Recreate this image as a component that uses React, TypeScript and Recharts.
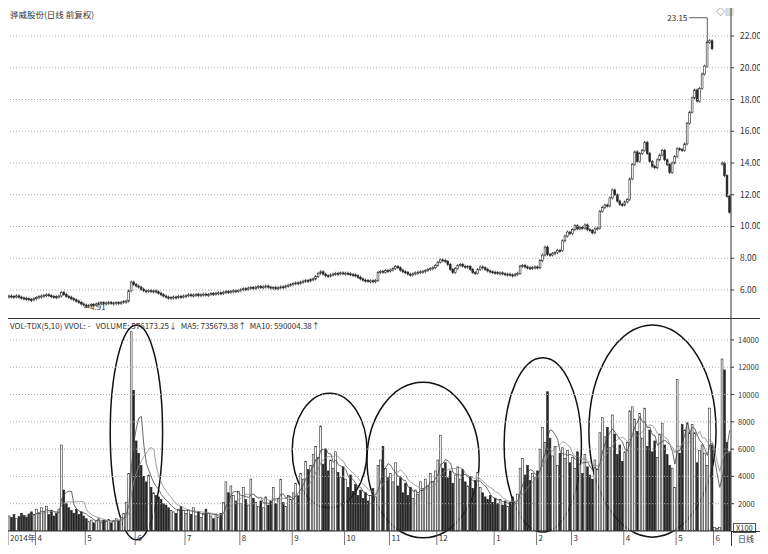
import React from 'react';
import { ComposedChart, Bar, Line, XAxis, YAxis, ReferenceLine, ReferenceArea, ReferenceDot } from 'recharts';

// trading days per month, first label carries the year
const monthLabels = ['2014年', '4', '5', '6', '7', '8', '9', '10', '11', '12', '1', '2', '3', '4', '5', '6'];
const monthDays = [11, 20, 20, 20, 22, 21, 21, 18, 19, 23, 17, 14, 21, 21, 15, 7];

// daily closes (null = suspended)
const closeMar14 = [5.62, 5.6, 5.58, 5.63, 5.55, 5.5, 5.48, 5.45, 5.4, 5.38, 5.45];
const closeApr14 = [5.52, 5.58, 5.62, 5.66, 5.7, 5.64, 5.6, 5.58, 5.55, 5.62, 5.85, 5.72, 5.6, 5.55, 5.45, 5.38, 5.3, 5.22, 5.12, 5.05];
const closeMay14 = [4.98, 5.02, 5.08, 5.05, 5.12, 5.18, 5.2, 5.15, 5.18, 5.22, 5.16, 5.18, 5.2, 5.15, 5.22, 5.28, 5.3, 5.95, 6.5, 6.35];
const closeJun14 = [6.25, 6.18, 6.05, 5.95, 5.92, 5.98, 5.9, 5.94, 5.88, 5.8, 5.7, 5.62, 5.55, 5.5, 5.52, 5.56, 5.55, 5.6, 5.58, 5.62];
const closeJul14 = [5.64, 5.7, 5.66, 5.68, 5.72, 5.65, 5.7, 5.74, 5.68, 5.72, 5.78, 5.75, 5.8, 5.82, 5.78, 5.85, 5.9, 5.88, 5.92, 5.95, 5.9, 5.98];
const closeAug14 = [6.02, 6.08, 6.05, 6.12, 6.15, 6.1, 6.18, 6.22, 6.15, 6.2, 6.25, 6.18, 6.12, 6.15, 6.1, 6.14, 6.2, 6.18, 6.25, 6.3, 6.35];
const closeSep14 = [6.4, 6.45, 6.42, 6.5, 6.55, 6.6, 6.58, 6.65, 6.7, 6.85, 7.05, 7.15, 7.0, 6.9, 6.88, 6.95, 7.0, 7.05, 7.02, 7.08, 7.05];
const closeOct14 = [7.06, 7.02, 6.98, 6.95, 6.9, 6.8, 6.7, 6.62, 6.6, 6.55, 6.58, 6.52, 6.6, 7.1, 7.18, 7.12, 7.22, 7.2];
const closeNov14 = [7.26, 7.35, 7.48, 7.4, 7.25, 7.15, 7.1, 7.0, 6.95, 7.02, 7.08, 7.12, 7.15, 7.18, 7.22, 7.3, 7.35, 7.4, 7.55];
const closeDec14 = [7.75, 7.9, 7.85, 7.8, 7.6, 7.3, 7.1, 7.35, 7.55, 7.6, 7.5, 7.45, 7.48, 7.3, 7.1, 7.05, 7.3, 7.45, 7.4, 7.3, 7.2, 7.15, 7.12];
const closeJan15 = [7.1, 7.05, 7.08, 7.02, 6.98, 7.0, 6.95, 6.92, 6.98, 7.05, 7.5, 7.55, 7.45, 7.4, 7.38, 7.42, 7.45];
const closeFeb15 = [7.4, 7.85, 8.2, 8.7, 8.25, 8.2, 8.3, 8.35, 8.5, 8.48, 9.1, 9.4, 9.65, 9.55];
const closeMar15 = [9.8, 10.05, 9.85, 9.95, 9.9, 10.1, 9.8, 9.75, 9.6, 9.85, 9.9, 10.95, 11.2, 11.35, 11.3, 11.8, 12.3, 12.0, 11.6, 11.4, 11.35];
const closeApr15 = [11.55, 11.7, 13.0, 13.9, 14.7, 14.1, 14.6, 14.8, 15.3, 14.6, 14.1, 13.8, 13.7, 14.2, 14.5, 14.8, 14.2, 13.9, 13.4, 14.0, 14.4];
const closeMay15 = [14.9, 14.85, 14.8, 15.2, 16.5, 17.2, 18.1, 18.6, 17.9, 18.7, 19.6, 20.1, 21.6, 21.7, 21.2];
const closeJun15 = [null, null, null, 14.0, 13.2, 11.9, 10.9];

// daily volume (x100 shares)
const volMar14 = [1100, 1000, 1200, 900, 1050, 1300, 1150, 1000, 1250, 1400, 1200];
const volApr14 = [1600, 1300, 1700, 1400, 1800, 1200, 1500, 1100, 1300, 1600, 6300, 3000, 2000, 1700, 1500, 1300, 1600, 1200, 1400, 1100];
const volMay14 = [900, 700, 800, 600, 750, 900, 650, 800, 700, 850, 600, 750, 900, 800, 1000, 1300, 2100, 4200, 14600, 10300];
const volJun14 = [6600, 5700, 4800, 4000, 3600, 4100, 3200, 2800, 2600, 2500, 2300, 2000, 1900, 1700, 1500, 1400, 1300, 1600, 1800, 1500];
const volJul14 = [1300, 1500, 1200, 1700, 1100, 1400, 1000, 1200, 1600, 1300, 1100, 900, 1200, 1000, 1300, 2100, 3600, 2800, 3300, 2600, 2200, 2900];
const volAug14 = [2000, 3200, 2300, 1900, 3800, 2400, 2100, 1800, 2200, 1700, 2500, 1900, 2200, 3200, 2000, 2400, 3800, 2100, 1800, 2600, 2300];
const volSep14 = [2800, 3500, 2600, 4200, 3800, 5100, 4500, 4800, 5600, 6200, 5400, 7700, 4900, 6000, 4400, 5200, 4600, 5800, 4300, 3900, 4700];
const volOct14 = [3800, 3200, 4100, 2900, 3400, 2600, 3000, 2400, 2800, 2200, 2600, 3100, 2500, 4800, 5200, 6200, 4600, 3900];
const volNov14 = [4200, 3600, 5000, 3300, 3900, 2800, 3500, 2600, 3200, 2400, 3000, 2700, 3600, 3100, 3800, 3300, 4200, 3600, 4400];
const volDec14 = [5200, 7000, 4600, 5000, 3900, 4400, 3500, 4100, 4700, 3800, 4500, 3600, 3300, 4000, 3100, 3700, 4300, 3200, 2800, 2500, 2300, 2600, 2100];
const volJan15 = [2400, 2000, 2300, 1900, 2200, 1800, 2100, 2500, 2000, 2700, 4600, 5300, 4100, 4800, 3700, 4200, 3900];
const volFeb15 = [4400, 6000, 7600, 6500, 10200, 6800, 5500, 6200, 4800, 5700, 6100, 5300, 5900, 5000];
const volMar15 = [5400, 4600, 5800, 4900, 4200, 5600, 4700, 4100, 3800, 5200, 4500, 7200, 8300, 6900, 7600, 6100, 8500, 7100, 5600, 6300, 5100];
const volApr15 = [5800, 6500, 8800, 9100, 8200, 7300, 8600, 6800, 9000, 6200, 7400, 5800, 6600, 5400, 7100, 7900, 6300, 5600, 4800, 4600, 3200];
const volMay15 = [11100, 5700, 7800, 7400, 7900, 7200, 7800, 7200, 5000, 5900, 6300, 5700, 4800, 9000, 6300];
const volJun15 = [250, 200, 250, 12600, 11800, 6500, 5800];

const priceTicks = [6, 7, 8, 9, 10, 11, 12, 13, 14, 15, 16, 17, 18, 19, 20, 21, 22];
const priceGrid = [6, 8, 10, 12, 14, 16, 18, 20, 22];
const volTicks = [2000, 4000, 6000, 8000, 10000, 12000, 14000];

// hand-drawn ellipses (day index range, volume range)
const ellipses = [
  { x1: 41, x2: 61, y1: -650, y2: 15100 },
  { x1: 114, x2: 143, y1: 1700, y2: 10100 },
  { x1: 144, x2: 188, y1: -500, y2: 10900 },
  { x1: 199, x2: 229, y1: -80, y2: 12700 },
  { x1: 233, x2: 283, y1: -450, y2: 15100 },
];

const closes: (number | null)[] = [
  ...closeMar14, ...closeApr14, ...closeMay14, ...closeJun14, ...closeJul14, ...closeAug14, ...closeSep14, ...closeOct14,
  ...closeNov14, ...closeDec14, ...closeJan15, ...closeFeb15, ...closeMar15, ...closeApr15, ...closeMay15, ...closeJun15,
];
const volumes = [
  ...volMar14, ...volApr14, ...volMay14, ...volJun14, ...volJul14, ...volAug14, ...volSep14, ...volOct14,
  ...volNov14, ...volDec14, ...volJan15, ...volFeb15, ...volMar15, ...volApr15, ...volMay15, ...volJun15,
];

const avg = (arr: number[], i: number, n: number) => {
  if (i < n - 1) return null;
  let s = 0;
  for (let k = i - n + 1; k <= i; k++) s += arr[k];
  return s / n;
};

const data = closes.map((c, i) => {
  const prev = i > 0 ? closes[i - 1] : null;
  const open = prev ?? c;
  return {
    i,
    close: c,
    body: c == null || open == null ? null : [Math.min(open, c), Math.max(open, c)],
    up: c == null || prev == null ? true : c >= prev,
    vol: volumes[i],
    ma5: avg(volumes, i, 5),
    ma10: avg(volumes, i, 10),
  };
});

const monthStarts: number[] = [];
const tickLabel: Record<number, string> = {};
monthDays.reduce((acc, n, k) => {
  monthStarts.push(acc);
  tickLabel[acc] = monthLabels[k];
  return acc + n;
}, 0);

const W = 752;
const PLOT_W = 723;
const BAND = PLOT_W / data.length;
const INK = '#262626';
const FONT = '"Noto Sans CJK SC", "Noto Sans", sans-serif';

const Candle = (p: any) => {
  const { x, y, width, height, payload } = p;
  if (payload.close == null) return null;
  const cx = x + width / 2;
  const h = Math.max(height, 1);
  return (
    <g>
      <line x1={cx} x2={cx} y1={y - 1.5} y2={y + h + 1.5} stroke={INK} strokeWidth={0.8} />
      <rect x={cx - 0.9} y={y} width={1.8} height={h} fill={payload.up ? '#fff' : INK} stroke={INK} strokeWidth={0.6} />
    </g>
  );
};

const VolBar = (p: any) => {
  const { x, y, width, height, payload } = p;
  const cx = x + width / 2;
  return (
    <rect x={cx - 0.9} y={y} width={1.8} height={Math.max(height, 0.5)} fill={payload.up ? '#fff' : INK} stroke={INK} strokeWidth={0.6} />
  );
};

const EllipseShape = (p: any) => (
  <ellipse cx={p.x + p.width / 2} cy={p.y + p.height / 2} rx={p.width / 2} ry={p.height / 2} fill="none" stroke="#111" strokeWidth={1.5} />
);

const PriceTick = ({ x, y, payload }: any) => (
  <text x={x + 4} y={y + 3} fontSize={8.5} fill="#333" fontFamily={FONT}>{payload.value.toFixed(2)}</text>
);

const VolTick = ({ x, y, payload }: any) => (
  <text x={x + 2} y={y + 3} fontSize={7.5} fill="#333" fontFamily={FONT}>{payload.value}</text>
);

const DateTick = ({ x, y, payload }: any) => {
  const lx = x - BAND / 2;
  return (
    <g>
      <line x1={lx} x2={lx} y1={y} y2={y + 14} stroke="#555" strokeWidth={0.8} />
      <text x={lx + 2} y={y + 10} fontSize={8} fill="#333" fontFamily={FONT}>{tickLabel[payload.value]}</text>
    </g>
  );
};

const HighMark = (p: any) => (
  <g>
    <line x1={p.cx - 18} x2={p.cx} y1={p.cy} y2={p.cy} stroke="#333" strokeWidth={0.8} />
    <text x={p.cx - 20} y={p.cy + 3} fontSize={8} fill="#333" textAnchor="end" fontFamily={FONT}>23.15</text>
  </g>
);

const LowMark = (p: any) => (
  <g>
    <line x1={p.cx} x2={p.cx + 5} y1={p.cy} y2={p.cy} stroke="#333" strokeWidth={0.8} />
    <text x={p.cx + 6} y={p.cy + 3} fontSize={8} fill="#333" fontFamily={FONT}>4.91</text>
  </g>
);

const App = () => (
  <div style={{ position: 'relative', width: 768, height: 554, margin: -8, background: '#fff', fontFamily: FONT, overflow: 'hidden' }}>
    <div style={{ position: 'absolute', left: 7, top: 6, width: 754, height: 540, border: '1px solid #333' }} />
    <div style={{ position: 'absolute', left: 8, top: 318, width: 753, height: 1, background: '#333' }} />

    <div style={{ position: 'absolute', left: 8, top: 8 }}>
      <ComposedChart width={W} height={310} data={data} margin={{ top: 0, right: 0, bottom: 0, left: 0 }} barCategoryGap={0}>
        <XAxis dataKey="i" hide />
        <YAxis orientation="right" domain={[4.236, 23.764]} ticks={priceTicks} width={29} allowDataOverflow
          axisLine={{ stroke: '#333' }} tickLine={{ stroke: '#333' }} tickSize={3} tickMargin={2} tick={PriceTick} />
        {priceGrid.map((v) => (
          <ReferenceLine key={v} y={v} stroke="#aaa" strokeDasharray="1 2" />
        ))}
        <Bar dataKey="body" shape={Candle} isAnimationActive={false} />
        <ReferenceLine segment={[{ x: 280, y: 23.15 }, { x: 280, y: 21.6 }]} stroke="#333" strokeWidth={0.8} />
        <ReferenceDot x={280} y={23.15} shape={HighMark} />
        <ReferenceDot x={30} y={4.91} shape={LowMark} />
      </ComposedChart>
    </div>

    <div style={{ position: 'absolute', left: 10, top: 8, fontSize: 8.5, color: '#333' }}>骅威股份(日线 前复权)</div>
    <div style={{ position: 'absolute', left: 716, top: 5, fontSize: 9, color: '#555' }}>◇▥</div>

    <div style={{ position: 'absolute', left: 8, top: 318 }}>
      <ComposedChart width={W} height={228} data={data} margin={{ top: 0, right: 0, bottom: 0, left: 0 }} barCategoryGap={0}>
        <XAxis dataKey="i" ticks={monthStarts} interval={0} height={15} tickSize={0} tickMargin={0}
          axisLine={{ stroke: '#333' }} tick={DateTick} />
        <YAxis orientation="right" domain={[0, 15605]} ticks={volTicks} width={29} allowDataOverflow
          axisLine={{ stroke: '#333' }} tickLine={{ stroke: '#333' }} tickSize={3} tickMargin={2} tick={VolTick} />
        {volTicks.map((v) => (
          <ReferenceLine key={v} y={v} stroke="#aaa" strokeDasharray="1 2" />
        ))}
        <Bar dataKey="vol" shape={VolBar} isAnimationActive={false} />
        <Line dataKey="ma5" stroke="#444" strokeWidth={0.8} dot={false} isAnimationActive={false} />
        <Line dataKey="ma10" stroke="#888" strokeWidth={0.8} dot={false} isAnimationActive={false} />
        {ellipses.map((e, k) => (
          <ReferenceArea key={k} x1={e.x1} x2={e.x2} y1={e.y1} y2={e.y2} ifOverflow="visible" shape={EllipseShape} />
        ))}
      </ComposedChart>
    </div>

    <div style={{ position: 'absolute', left: 10, top: 320, fontSize: 8, color: '#333', whiteSpace: 'pre' }}>
      {'VOL-TDX(5,10) VVOL: -   VOLUME: 576173.25↓  MA5: 735679.38↑  MA10: 590004.38↑'}
    </div>
    <div style={{ position: 'absolute', left: 733, top: 523, fontSize: 7.5, color: '#333', border: '1px solid #555', padding: '0 2px', lineHeight: '8px' }}>X100</div>
    <div style={{ position: 'absolute', left: 731, top: 531, width: 30, height: 15, borderTop: '1px solid #333', borderLeft: '1px solid #333' }} />
    <div style={{ position: 'absolute', left: 738, top: 533, fontSize: 8, color: '#333' }}>日线</div>
  </div>
);

export default App;
